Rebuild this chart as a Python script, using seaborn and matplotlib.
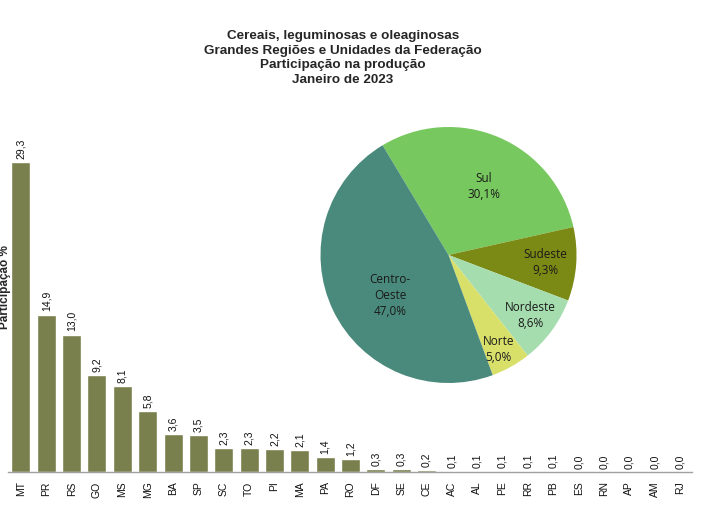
import matplotlib
matplotlib.use("Agg")
import matplotlib.pyplot as plt
import seaborn as sns
import numpy as np
import pandas as pd

states = ["MT", "PR", "RS", "GO", "MS", "MG", "BA", "SP", "SC", "TO", "PI", "MA", "PA", "RO",
          "DF", "SE", "CE", "AC", "AL", "PE", "RR", "PB", "ES", "RN", "AP", "AM", "RJ"]
shares = [29.3, 14.9, 13.0, 9.2, 8.1, 5.8, 3.6, 3.5, 2.3, 2.3, 2.2, 2.1, 1.4, 1.2,
          0.3, 0.3, 0.2, 0.1, 0.1, 0.1, 0.1, 0.1, 0.0, 0.0, 0.0, 0.0, 0.0]

regions = ["Sul", "Sudeste", "Nordeste", "Norte", "Centro-\nOeste"]
region_shares = [30.1, 9.3, 8.6, 5.0, 47.0]
region_colors = ["#77C95F", "#7A8A14", "#A6DDAF", "#D8E06A", "#4A8A7C"]
label_radius = [0.61, 0.76, 0.79, 0.83, 0.55]
label_angle_shift = [-3.5, 0.0, 0.5, -1.3, 8.2]

title_lines = ["Cereais, leguminosas e oleaginosas",
               "Grandes Regiões e Unidades da Federação",
               "Participação na produção",
               "Janeiro de 2023"]

sns.set_style("white")
plt.rcParams["font.family"] = ["Liberation Sans", "DejaVu Sans"]

fig = plt.figure(figsize=(7.2, 5.1), dpi=100)
W, H = 720, 510
ax = fig.add_axes([8 / W, 1 - 473 / H, 684 / W, 353 / H])

df = pd.DataFrame({"uf": states, "v": shares})
sns.barplot(data=df, x="uf", y="v", color="#7A804D", width=0.75, saturation=1, ax=ax)
ax.set_xlim(-0.51, 26.47)
ax.set_ylim(0, 33.4)
ax.set_xlabel("")
ax.set_ylabel("")
ax.set_yticks([])
for s in ["top", "right", "left"]:
    ax.spines[s].set_visible(False)
ax.spines["bottom"].set_color("#A0A0A0")
ax.spines["bottom"].set_linewidth(1.0)
ax.tick_params(axis="x", length=0, pad=6, labelsize=7.5, labelrotation=90, labelcolor="#111111")

for i, v in enumerate(shares):
    ax.annotate(f"{v:.1f}".replace(".", ","), (i, v), xytext=(0, 3), textcoords="offset points",
                rotation=90, ha="center", va="bottom", fontsize=7.5, color="#111111")

fig.text(5 / W, 1 - 287 / H, "Participação %", rotation=90, ha="center", va="center",
         fontsize=8.5, fontweight="bold")

fig.text(343 / W, 1 - 58 / H, "\n".join(title_lines), ha="center", va="center",
         fontsize=9.7, fontweight="bold", linespacing=1.27)

r = 128
cx, cy = 448.5, 256
pax = fig.add_axes([(cx - r) / W, 1 - (cy + r) / H, 2 * r / W, 2 * r / H])
wedges, _ = pax.pie(region_shares, colors=region_colors, startangle=121, counterclock=False,
                    wedgeprops=dict(linewidth=0))
pax.set_xlim(-1, 1)
pax.set_ylim(-1, 1)
pax.set_aspect("equal")
for w, lab, val, rr, da in zip(wedges, regions, region_shares, label_radius, label_angle_shift):
    ang = np.deg2rad(0.5 * (w.theta1 + w.theta2) + da)
    pax.text(rr * np.cos(ang), rr * np.sin(ang), f"{lab}\n{val:.1f}%".replace(".", ","),
             ha="center", va="center", fontsize=8.5, color="#1a1a1a", family=["Open Sans", "DejaVu Sans"],
             linespacing=1.3)

fig.savefig("out.png", dpi=100)
